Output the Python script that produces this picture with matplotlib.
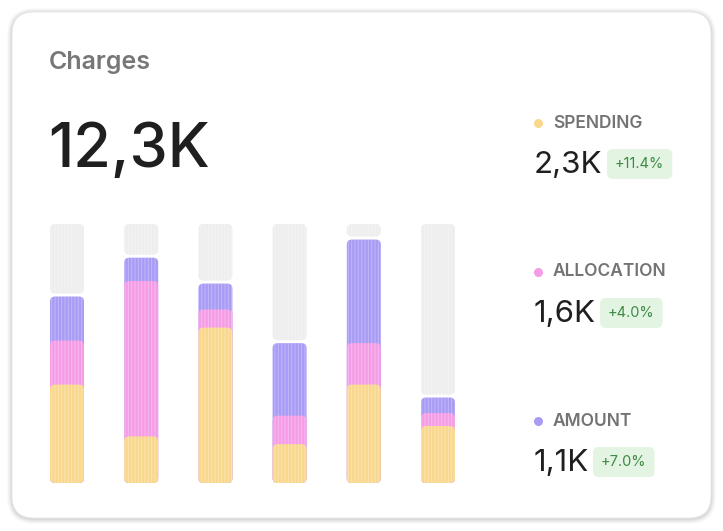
import matplotlib.pyplot as plt
from matplotlib.patches import FancyBboxPatch

# values, scale 0..100 = full height of the grey track
spending = [38, 18, 60, 15, 38, 22]
allocation = [17, 60, 7, 11, 16, 5]
amount = [17, 9, 10, 28, 40, 6]

legend_names = ['SPENDING', 'ALLOCATION', 'AMOUNT']
legend_values = ['2,3K', '1,6K', '1,1K']
legend_changes = ['+11.4%', '+4.0%', '+7.0%']
total_label = '12,3K'
title = 'Charges'

c_yellow = '#f9d88d'
c_pink = '#f59ce6'
c_purple = '#a89bf6'
c_grey = '#eeeeee'

plt.rcParams['font.family'] = ['Inter', 'DejaVu Sans']
plt.rcParams['hatch.linewidth'] = 0.7

W, H = 723, 531
fig = plt.figure(figsize=(W / 100, H / 100), dpi=100)

# overlay in pixel coordinates for the card and texts
bg = fig.add_axes([0, 0, 1, 1])
bg.set_xlim(0, W)
bg.set_ylim(H, 0)
bg.axis('off')

# soft shadow then the white card
for i, a in enumerate([0.02, 0.025, 0.03, 0.035, 0.04]):
    g = 5 - i
    bg.add_patch(FancyBboxPatch((12 - g, 12 - g + 1), 699 + 2 * g, 506 + 2 * g,
                                boxstyle='round,pad=0,rounding_size=%d' % (22 + g),
                                fc='black', ec='none', alpha=a))
bg.add_patch(FancyBboxPatch((12, 12), 699, 506, boxstyle='round,pad=0,rounding_size=22',
                            fc='white', ec='#e6e6e6', lw=0.6))

bg.text(49, 62, title, fontsize=18, fontweight='semibold', color='#777777', va='center')
bg.text(48, 151, total_label, fontsize=44, fontweight='medium', color='#1f1f1f', va='center')

dots = [c_yellow, c_pink, c_purple]
rows = [123, 272, 421]
badge_x = [615, 608, 601]
for name, val, chg, col, y, bx in zip(legend_names, legend_values, legend_changes, dots, rows, badge_x):
    bg.plot(538, y, 'o', ms=6.5, color=col, mec='none')
    bg.text(553, y, name, fontsize=12.5, fontweight='semibold', color='#737373', va='center')
    bg.text(534, y + 42, val, fontsize=22.5, color='#1f1f1f', va='center')
    bg.text(bx, y + 41, chg, fontsize=10.5, color='#3d8b45', va='center',
            bbox=dict(boxstyle='round,pad=0.55,rounding_size=0.4', fc='#e3f4e3', ec='none'))

# bar axes: x index 0..5 centred at px 67..438, y 0..100 from px 483 to 224
px_x0, px_dx = 67, 74.2
px_y0, px_dy = 483, 2.59
left_px, right_px, top_px, bot_px = 30, 480, 215, 492
ax = fig.add_axes([left_px / W, 1 - bot_px / H, (right_px - left_px) / W, (bot_px - top_px) / H])
ax.set_xlim((left_px - px_x0) / px_dx, (right_px - px_x0) / px_dx)
ax.set_ylim((px_y0 - bot_px) / px_dy, (px_y0 - top_px) / px_dy)
ax.axis('off')

bw = 34 / px_dx
r = 5 / px_dx
asp = px_dx / px_dy


def rbar(x, y0, y1, col, z):
    p = FancyBboxPatch((x - bw / 2, y0), bw, y1 - y0,
                       boxstyle='round,pad=0,rounding_size=%f' % r,
                       mutation_aspect=asp, fc=col, ec=(1, 1, 1, 0.3),
                       lw=0, hatch='|||||', zorder=z)
    ax.add_patch(p)


for i in range(len(spending)):
    s1 = spending[i]
    s2 = s1 + allocation[i]
    s3 = s2 + amount[i]
    gap = 3 / px_dy
    rbar(i, s3 + gap, 100, c_grey, 1)
    rbar(i, 0, s3, c_purple, 2)
    rbar(i, 0, s2, c_pink, 3)
    rbar(i, 0, s1, c_yellow, 4)

fig.savefig('out.png', dpi=100)
